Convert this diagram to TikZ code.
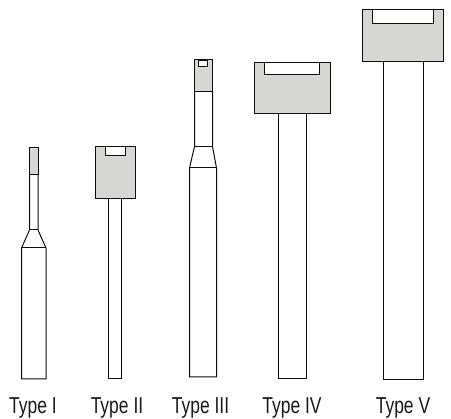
\documentclass[tikz,border=0pt]{standalone}
\usepackage{fontspec}
\setmainfont[FakeStretch=0.76]{Liberation Sans}
\tikzset{
  outline/.style={draw=black!95,line width=1pt,line join=miter},
  head/.style={outline,fill=headgray},
  slot/.style={outline,fill=white},
  typelabel/.style={inner sep=0pt,text=black!90,font=\fontsize{23}{25}\selectfont,anchor=base}
}
\definecolor{headgray}{RGB}{215,215,213}
\begin{document}
\begin{tikzpicture}[x=1pt,y=-1pt]
\useasboundingbox (0,0) rectangle (451,419);
% Type I
\draw[outline] (29.5,174.5) -- (29.5,230) -- (21.5,248) -- (21.5,379) -- (46,379) -- (46,248) -- (38,230) -- (38,174.5);
\draw[outline] (29.5,230) -- (38,230) (21.5,248) -- (46,248);
\draw[head] (29.5,147.5) rectangle (38,174.5);
% Type II
\draw[outline] (108.5,198.5) rectangle (121.5,379);
\draw[head] (95.5,146.5) rectangle (135,198.5);
\draw[slot] (105.5,146.5) rectangle (125.5,156);
% Type III
\draw[outline] (194.5,91.5) -- (194.5,146.5) -- (189.5,168) -- (189.5,377) -- (216.5,377) -- (216.5,168) -- (212.5,146.5) -- (212.5,91.5);
\draw[outline] (194.5,146.5) -- (212.5,146.5) (189.5,168) -- (216.5,168);
\draw[head] (194.5,59.5) rectangle (212.5,91.5);
\draw[slot] (198.5,60.7) rectangle (207.7,66.3);
% Type IV
\draw[outline] (278,113.7) rectangle (306.3,378.3);
\draw[head] (254.3,62.3) rectangle (330.7,113.7);
\draw[slot] (264.5,62.3) rectangle (319,74.5);
% Type V
\draw[outline] (383,61.3) rectangle (423,379.3);
\draw[head] (362,9.3) rectangle (443.7,61.3);
\draw[slot] (372.5,9.3) rectangle (433,24);
% Labels
\node[typelabel] (t1) at (33,414) {Type I};
\node[typelabel] (t2) at (117,414) {Type II};
\node[typelabel] (t3) at (200.5,414) {Type III};
\node[typelabel] (t4) at (292,414) {Type IV};
\node[typelabel] (t5) at (403,414) {Type V};
\end{tikzpicture}
\end{document}
